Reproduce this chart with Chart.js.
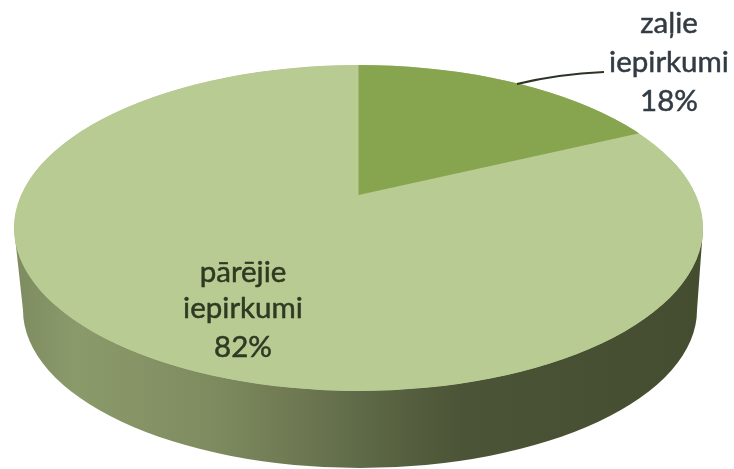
<!DOCTYPE html>
<html>
<head>
<meta charset="utf-8">
<script src="https://cdn.jsdelivr.net/npm/chart.js@4"></script>
<style>html,body{margin:0;padding:0;background:#fff;overflow:hidden}canvas{display:block;filter:blur(0.5px)}</style>
</head>
<body>
<canvas id="c" width="734" height="469"></canvas>
<script>
const categories = [['zaļie', 'iepirkumi'], ['pārējie', 'iepirkumi']];
const values = [18, 82];
const sliceColors = ['#87a44e', '#b7cb93'];

const top_ = {cx: 358.5, cy: 228, rx: 344.5, ry: 163};
const bottom_ = {cx: 360, cy: 310, rx: 337, ry: 158};
const apex = {x: 358.5, y: 195};

function sideGradient(ctx) {
  const g = ctx.createLinearGradient(14, 0, 703, 0);
  [[0, '#7d8b60'], [0.09, '#8b9a6b'], [0.28, '#7f8c60'], [0.42, '#6d7751'],
   [0.5, '#5f6a48'], [0.65, '#4b5436'], [1, '#454d30']].forEach(s => g.addColorStop(s[0], s[1]));
  return g;
}

const pie3d = {
  id: 'pie3d',
  beforeDatasetDraw(chart, args) {
    const ctx = chart.ctx;
    const [green, light] = args.meta.data;
    const R = light.outerRadius;

    // side wall
    ctx.save();
    ctx.fillStyle = sideGradient(ctx);
    ctx.beginPath();
    ctx.moveTo(top_.cx - top_.rx, top_.cy);
    ctx.lineTo(bottom_.cx - bottom_.rx, bottom_.cy);
    ctx.ellipse(bottom_.cx, bottom_.cy, bottom_.rx, bottom_.ry, 0, Math.PI, 0, true);
    ctx.lineTo(top_.cx + top_.rx, top_.cy);
    ctx.closePath();
    ctx.fill();
    ctx.restore();

    // top face
    ctx.save();
    ctx.beginPath();
    ctx.ellipse(top_.cx, top_.cy, top_.rx, top_.ry, 0, 0, Math.PI * 2);
    ctx.fillStyle = sliceColors[1];
    ctx.fill();
    ctx.clip();

    ctx.save();
    ctx.translate(top_.cx, top_.cy);
    ctx.scale(top_.rx / R, top_.ry / R);
    ctx.translate(-light.x, -light.y);
    light.draw(ctx);
    ctx.restore();

    // perspective: the slice tip sits behind the ellipse centre
    ctx.save();
    ctx.translate(apex.x, apex.y);
    ctx.transform(311.6 / R, -7.3 / R, 0, 130 / R, 0, 0);
    ctx.translate(-green.x, -green.y);
    green.draw(ctx);
    ctx.restore();
    ctx.restore();
    return false;
  },
  afterDraw(chart) {
    const ctx = chart.ctx;
    ctx.save();
    ctx.strokeStyle = '#2b3426';
    ctx.lineWidth = 2;
    ctx.beginPath();
    ctx.moveTo(517, 84);
    ctx.quadraticCurveTo(558, 74, 604, 72);
    ctx.stroke();

    ctx.font = '29.5px Lato, "Open Sans", sans-serif';
    ctx.textAlign = 'center';
    ctx.textBaseline = 'alphabetic';
    const block = (i, x, ys, color) => {
      ctx.fillStyle = color;
      ctx.strokeStyle = color;
      ctx.lineWidth = 0.5;
      const lines = [...categories[i], values[i] + '%'];
      lines.forEach((t, k) => {
        ctx.fillText(t, x, ys[k]);
        ctx.strokeText(t, x, ys[k]);
      });
    };
    block(0, 669, [33, 72, 111], '#333c44');
    block(1, 243, [282, 318, 357], '#2e3a22');
    ctx.restore();
  }
};

new Chart(document.getElementById('c'), {
  type: 'pie',
  data: {
    labels: categories.map(c => c.join(' ')),
    datasets: [{data: values, backgroundColor: sliceColors, borderWidth: 0, clip: false}]
  },
  options: {
    responsive: false,
    animation: false,
    radius: 345,
    layout: {padding: {bottom: 79, right: 17}},
    plugins: {legend: {display: false}, tooltip: {enabled: false}}
  },
  plugins: [pie3d]
});
</script>
</body>
</html>
